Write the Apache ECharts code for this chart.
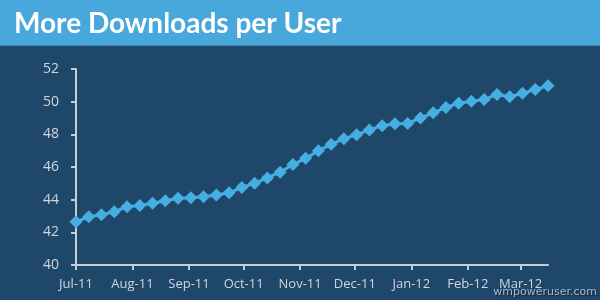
<!DOCTYPE html>
<html>
<head>
<meta charset="utf-8">
<script src="https://cdn.jsdelivr.net/npm/echarts@6/dist/echarts.min.js"></script>
<style>html,body{margin:0;padding:0;background:#1f4769;}#c{width:600px;height:300px;}</style>
</head>
<body>
<div id="c"></div>
<script>
// Weekly downloads per user, starting Jul 1 2011 (one point per week)
var weeklyValues = [42.65, 42.95, 43.07, 43.26, 43.57, 43.64, 43.78, 43.93, 44.08, 44.12,
  44.18, 44.29, 44.42, 44.75, 45.0, 45.33, 45.68, 46.15, 46.53, 47.0,
  47.39, 47.73, 47.98, 48.27, 48.53, 48.65, 48.67, 49.0, 49.32, 49.65,
  49.9, 50.02, 50.13, 50.44, 50.3, 50.51, 50.75, 50.98];
// Month tick positions in days since Jul 1 2011, and their labels
var monthDays = [0, 31, 62, 92, 123, 153, 184, 215, 244];
var monthLabels = ['Jul-11', 'Aug-11', 'Sep-11', 'Oct-11', 'Nov-11', 'Dec-11', 'Jan-12', 'Feb-12', 'Mar-12'];
var yTicks = [40, 42, 44, 46, 48, 50, 52];
var titleText = 'More Downloads per User';
var watermark = 'wmpoweruser.com';

var seriesData = weeklyValues.map(function (v, i) { return [i * 7, v]; });
var chart = echarts.init(document.getElementById('c'), null, {renderer: 'canvas'});
chart.setOption({
  backgroundColor: '#1f4769',
  animation: false,
  graphic: [
    {type: 'rect', left: 0, top: 0, shape: {width: 600, height: 45}, style: {fill: '#48a8dc'}, z: 0},
    {type: 'rect', left: 0, top: 45, shape: {width: 600, height: 1}, style: {fill: '#3b88b8'}, z: 0},
    {type: 'text', right: 3, top: 287, style: {text: watermark, fill: '#a9b8cc', font: '11px "DejaVu Sans"', textShadowColor: 'rgba(0,0,0,0.5)', textShadowBlur: 1, textShadowOffsetX: 1, textShadowOffsetY: 1}, z: 10}
  ],
  title: {
    text: titleText, left: 9, top: 5,
    textStyle: {color: '#ffffff', fontFamily: 'Lato', fontWeight: 'bold', fontSize: 28}
  },
  grid: {left: 76, right: 52, top: 69, bottom: 35, containLabel: false},
  xAxis: {
    type: 'value', min: 0, max: (weeklyValues.length - 1) * 7,
    splitLine: {show: false},
    axisLine: {show: true, lineStyle: {color: '#c9ced6', width: 2}},
    axisTick: {show: true, customValues: monthDays, length: 5, lineStyle: {color: '#c9ced6', width: 2}},
    axisLabel: {
      customValues: monthDays, margin: 13, color: '#d2d7de', fontFamily: 'Open Sans', fontSize: 13,
      formatter: function (v) { var k = monthDays.indexOf(v); return k >= 0 ? monthLabels[k] : ''; }
    }
  },
  yAxis: {
    type: 'value', min: yTicks[0], max: yTicks[yTicks.length - 1], interval: 2,
    splitLine: {show: false},
    axisLine: {show: true, lineStyle: {color: '#c9ced6', width: 2}},
    axisTick: {show: true, inside: false, length: 5, lineStyle: {color: '#c9ced6', width: 2}},
    axisLabel: {margin: 17, color: '#d2d7de', fontFamily: 'Open Sans', fontSize: 14}
  },
  series: [{
    type: 'line', data: seriesData,
    symbol: 'diamond', symbolSize: 13,
    lineStyle: {color: '#45aee2', width: 3},
    itemStyle: {color: '#45aee2'},
    z: 5
  }]
});
</script>
</body>
</html>
